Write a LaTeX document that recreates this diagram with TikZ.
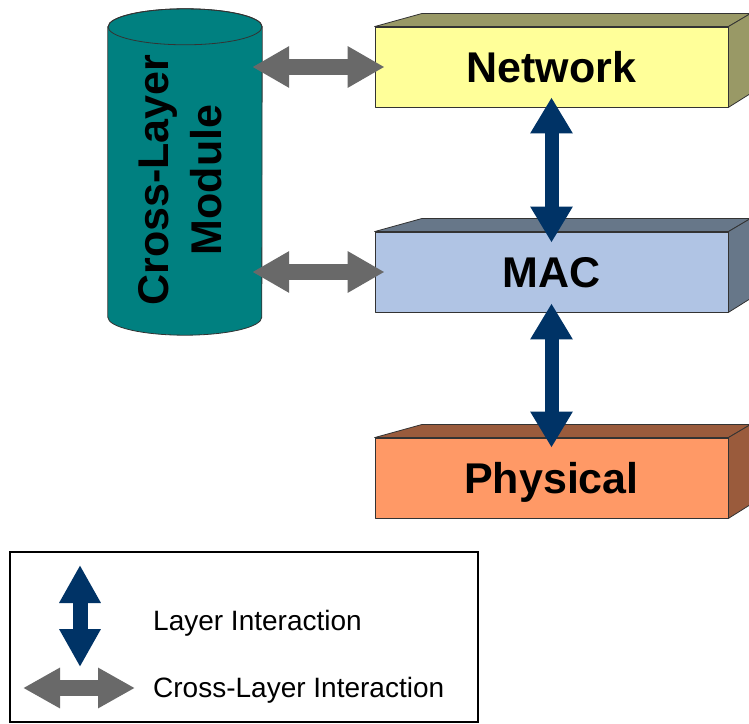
\documentclass[tikz,border=0pt]{standalone}
\usepackage{fontspec}
\setmainfont{Liberation Sans}
\usetikzlibrary{arrows.meta}

\definecolor{netfront}{HTML}{FFFF99}
\definecolor{netdark}{HTML}{999966}
\definecolor{macfront}{HTML}{B0C4E4}
\definecolor{macdark}{HTML}{677789}
\definecolor{physfront}{HTML}{FF9966}
\definecolor{physdark}{HTML}{9A5B3C}
\definecolor{moduleteal}{HTML}{008080}
\definecolor{layerblue}{HTML}{003366}
\definecolor{crossgray}{HTML}{696969}

\begin{document}
\begin{tikzpicture}[x=1pt,y=1pt,
  edge/.style={draw=black!80, line width=0.8pt, line join=round},
  face/.style={edge, minimum width=353pt, minimum height=80pt, inner sep=0pt,
    text height=31pt, text depth=0pt,
    font=\fontsize{43}{50}\selectfont\bfseries},
  layerarrow/.style={layerblue, line width=14pt,
    arrows={Triangle[width=40pt,length=36pt]-Triangle[width=40pt,length=36pt]}},
  crossarrow/.style={crossgray, line width=16pt,
    arrows={Triangle[width=39pt,length=37pt]-Triangle[width=39pt,length=37pt]}},
  legendtext/.style={anchor=base west, inner sep=0pt,
    font=\fontsize{28}{34}\selectfont}]

\useasboundingbox (0,0) rectangle (749,723);
\clip (0,0) rectangle (749,723);
\fill[white] (0,0) rectangle (749,723);

% ---- protocol layers (front faces carry the labels) ----
\node[face, fill=netfront] (net) at (551.5,656) {Network};
\node[face, fill=macfront] (mac) at (551.5,451) {MAC};
\node[face, fill=physfront] (phys) at (551.5,245) {Physical};

% top and side faces of each layer block
\foreach \blk/\dk in {net/netdark, mac/macdark, phys/physdark}{
  \draw[edge, fill=\dk] (\blk.north west) -- ++(47,13)
     -- ([shift={(22,13)}]\blk.north east) -- (\blk.north east) -- cycle;
  \draw[edge, fill=\dk] (\blk.north east) -- ++(22,13) -- ++(0,-80)
     -- (\blk.south east) -- cycle;
}

% ---- cross-layer module (vertical cylinder) ----
\node[minimum width=154pt, minimum height=290pt, inner sep=0pt] (clm) at (185,551) {};
\draw[edge, fill=moduleteal] (clm.north west) -- (clm.south west)
   arc[start angle=180, end angle=360, x radius=77pt, y radius=18pt]
   -- (clm.north east)
   arc[start angle=0, end angle=180, x radius=77pt, y radius=18pt] -- cycle;
\draw[edge] (clm.north) ellipse[x radius=77pt, y radius=18pt];
\node[rotate=90, align=center, inner sep=0pt,
      font=\fontsize{43}{53}\selectfont\bfseries] (clmtext) at (180.5,543)
      {Cross-Layer\\Module};

% ---- cross-layer interactions ----
\draw[crossarrow, shorten <=-10pt, shorten >=-10pt] (clm.east |- net.west) -- (net.west);
\draw[crossarrow, shorten <=-10pt, shorten >=-10pt] (clm.east |- mac.west) -- (mac.west);

% ---- layer interactions ----
\draw[layerarrow, shorten <=-10pt, shorten >=-11pt] (net.south) -- (mac.north);
\draw[layerarrow, shorten <=-9pt, shorten >=-10pt] (mac.south) -- (phys.north);

% ---- legend ----
\node[draw=black, line width=2pt, minimum width=468pt, minimum height=170pt,
      inner sep=0pt] (legend) at (244,86) {};
\coordinate (lbtop) at (80,158);
\coordinate (lbbot) at (80,56);
\coordinate (lgleft) at (23,35);
\coordinate (lgright) at (135,35);
\draw[layerblue, line width=15pt,
      arrows={Triangle[width=39pt,length=38pt]-Triangle[width=39pt,length=38pt]}]
      (lbtop) -- (lbbot);
\draw[crossarrow, arrows={Triangle[width=38pt,length=37pt]-Triangle[width=38pt,length=37pt]}]
      (lgleft) -- (lgright);
\node[legendtext] (ltxt1) at (153,93) {Layer Interaction};
\node[legendtext] (ltxt2) at (153,26) {Cross-Layer Interaction};
\end{tikzpicture}
\end{document}
